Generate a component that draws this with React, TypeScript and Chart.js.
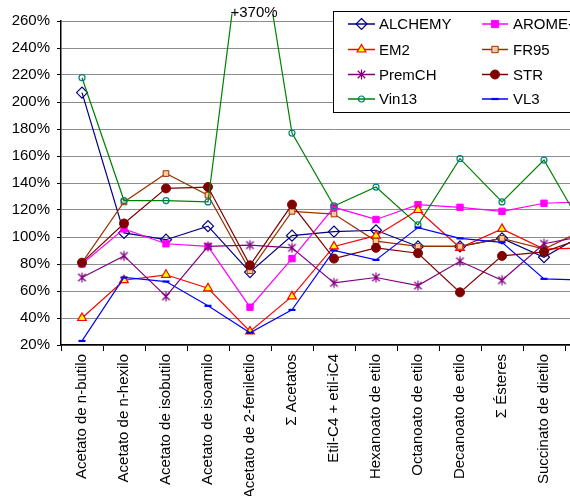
import React, { useEffect, useRef } from "react";
import { Chart, registerables } from "chart.js";

Chart.register(...registerables);

const categories = [
  "Acetato de n-butilo",
  "Acetato de n-hexilo",
  "Acetato de isobutilo",
  "Acetato de isoamilo",
  "Acetato de 2-feniletilo",
  "Σ Acetatos",
  "Etil-C4 + etil-iC4",
  "Hexanoato de etilo",
  "Octanoato de etilo",
  "Decanoato de etilo",
  "Σ Ésteres",
  "Succinato de dietilo",
  "Lactato de etilo",
];

const ALCHEMY = [207, 103, 98, 108, 74, 101, 104, 105, 93, 93, 99, 85, 103];
const AROME = [80, 106, 95, 93, 48, 84, 122, 113, 124, 122, 119, 125, 126];
const EM2 = [40, 68, 72, 62, 30, 56, 93, 101, 120, 92, 106, 91, 92];
const FR95 = [81, 126, 147, 131, 75, 119, 117, 97, 93, 93, 99, 91, 106];
const PremCH = [70, 86, 56, 93, 94, 92, 66, 70, 64, 82, 68, 95, 101];
const STR = [81, 110, 136, 137, 79, 124, 84, 92, 88, 59, 86, 89, 100];
const Vin13 = [218, 127, 127, 126, 370, 177, 123, 137, 109, 158, 126, 157, 103];
const VL3 = [23, 70, 67, 49, 29, 46, 90, 83, 107, 99, 96, 69, 68];

const yTicks = [20, 40, 60, 80, 100, 120, 140, 160, 180, 200, 220, 240, 260];
const peakLabel = "+370%";

const FONT = "'Liberation Sans', Arial, sans-serif";

type Series = {
  label: string;
  data: number[];
  line: string;
  style: string;
  fill: string;
  border: string;
  radius: number;
  bw: number;
};

const series: Series[] = [
  { label: "ALCHEMY", data: ALCHEMY, line: "#000080", style: "rectRot", fill: "rgba(255,255,255,0)", border: "#000080", radius: 5.5, bw: 1.2 },
  { label: "AROME+", data: AROME, line: "#FF00FF", style: "rect", fill: "#FF00FF", border: "#FF00FF", radius: 4.5, bw: 1 },
  { label: "EM2", data: EM2, line: "#FF0000", style: "triangle", fill: "#FFFF00", border: "#FF0000", radius: 5, bw: 1.2 },
  { label: "FR95", data: FR95, line: "#993300", style: "rect", fill: "#FFCC99", border: "#993300", radius: 4, bw: 1 },
  { label: "PremCH", data: PremCH, line: "#800080", style: "star", fill: "#800080", border: "#800080", radius: 5, bw: 1.2 },
  { label: "STR", data: STR, line: "#800000", style: "circle", fill: "#800000", border: "#800000", radius: 4.5, bw: 1 },
  { label: "Vin13", data: Vin13, line: "#008000", style: "circle", fill: "rgba(255,255,255,0)", border: "#008080", radius: 3, bw: 1.2 },
  { label: "VL3", data: VL3, line: "#0000FF", style: "line", fill: "#0000FF", border: "#0000FF", radius: 3.5, bw: 2.2 },
];

function drawMarker(ctx: CanvasRenderingContext2D, s: Series, x: number, y: number) {
  const r = s.radius;
  ctx.save();
  ctx.fillStyle = s.fill;
  ctx.strokeStyle = s.border;
  ctx.lineWidth = s.bw;
  ctx.beginPath();
  switch (s.style) {
    case "rectRot":
      ctx.moveTo(x, y - r);
      ctx.lineTo(x + r, y);
      ctx.lineTo(x, y + r);
      ctx.lineTo(x - r, y);
      ctx.closePath();
      ctx.fill();
      ctx.stroke();
      break;
    case "rect": {
      const h = r * 0.8;
      ctx.rect(x - h, y - h, 2 * h, 2 * h);
      ctx.fill();
      ctx.stroke();
      break;
    }
    case "triangle":
      ctx.moveTo(x, y - r);
      ctx.lineTo(x + r * 0.87, y + r * 0.5);
      ctx.lineTo(x - r * 0.87, y + r * 0.5);
      ctx.closePath();
      ctx.fill();
      ctx.stroke();
      break;
    case "star": {
      const d = r * 0.75;
      ctx.moveTo(x, y - r); ctx.lineTo(x, y + r);
      ctx.moveTo(x - d, y - d); ctx.lineTo(x + d, y + d);
      ctx.moveTo(x - d, y + d); ctx.lineTo(x + d, y - d);
      ctx.stroke();
      break;
    }
    case "circle":
      ctx.arc(x, y, r, 0, Math.PI * 2);
      ctx.fill();
      ctx.stroke();
      break;
    case "line":
      ctx.moveTo(x - r, y);
      ctx.lineTo(x + r, y);
      ctx.stroke();
      break;
  }
  ctx.restore();
}

function makeStar(s: Series): HTMLCanvasElement {
  const c = document.createElement("canvas");
  c.width = 13;
  c.height = 13;
  const ctx = c.getContext("2d");
  if (ctx) drawMarker(ctx, s, 6.5, 6.5);
  return c;
}

const overlayPlugin = {
  id: "overlay",
  afterDatasetsDraw(chart: any) {
    const ctx: CanvasRenderingContext2D = chart.ctx;
    const x = chart.scales.x.getPixelForValue(4);
    ctx.save();
    ctx.font = `15px ${FONT}`;
    ctx.fillStyle = "#000";
    ctx.textAlign = "center";
    ctx.textBaseline = "middle";
    ctx.fillText(peakLabel, x + 4, 13);
    ctx.restore();
  },
  afterDraw(chart: any) {
    const ctx: CanvasRenderingContext2D = chart.ctx;
    ctx.save();
    ctx.fillStyle = "#fff";
    ctx.fillRect(333.5, 11.5, 280, 101);
    ctx.strokeStyle = "#000";
    ctx.lineWidth = 1;
    ctx.strokeRect(333.5, 11.5, 280, 101);
    const cols = [
      { l0: 348, l1: 375, m: 361.5, t: 379 },
      { l0: 482, l1: 508, m: 495, t: 513 },
    ];
    const rows = [24, 49.5, 74.5, 99];
    ctx.font = `15px ${FONT}`;
    ctx.textBaseline = "middle";
    ctx.textAlign = "left";
    series.forEach((s, i) => {
      const c = cols[i % 2];
      const y = rows[Math.floor(i / 2)];
      ctx.strokeStyle = s.line;
      ctx.lineWidth = 1.5;
      ctx.beginPath();
      ctx.moveTo(c.l0, y);
      ctx.lineTo(c.l1, y);
      ctx.stroke();
      drawMarker(ctx, s, c.m, y);
      ctx.fillStyle = "#000";
      ctx.fillText(s.label, c.t, y + 1);
    });
    ctx.restore();
  },
};

export default function App() {
  const ref = useRef<HTMLCanvasElement | null>(null);
  useEffect(() => {
    if (!ref.current) return;
    Chart.defaults.font.family = FONT;
    Chart.defaults.color = "#000";
    const chart = new Chart(ref.current, {
      type: "line",
      data: {
        labels: categories,
        datasets: series.map((s, i) => ({
          label: s.label,
          data: s.data,
          borderColor: s.line,
          borderWidth: 1.2,
          backgroundColor: s.fill,
          pointStyle: (s.style === "star" ? makeStar(s) : s.style) as any,
          pointRadius: s.radius,
          pointHoverRadius: s.radius,
          pointBackgroundColor: s.fill,
          pointBorderColor: s.border,
          pointBorderWidth: s.bw,
          tension: 0,
          fill: false,
          order: series.length - i,
          clip: { left: 0, top: 7, right: 0, bottom: 0 } as any,
        })),
      },
      options: {
        animation: false,
        responsive: false,
        devicePixelRatio: 1,
        layout: { padding: { top: 21, right: 13, bottom: 0, left: 0 } },
        plugins: { legend: { display: false }, tooltip: { enabled: false } },
        scales: {
          x: {
            offset: true,
            ticks: {
              autoSkip: false,
              maxRotation: 90,
              minRotation: 90,
              font: { size: 15, family: FONT },
              color: "#000",
              padding: 3,
            },
            grid: { offset: true, drawOnChartArea: false, drawTicks: true, tickLength: 6, color: "#000", tickColor: "#000" },
            border: { display: true, color: "#000", width: 1.5 },
            afterFit: (s: any) => {
              s.height = 185;
            },
          },
          y: {
            min: yTicks[0],
            max: yTicks[yTicks.length - 1],
            afterBuildTicks: (s: any) => {
              s.ticks = yTicks.map((v) => ({ value: v }));
            },
            ticks: {
              callback: (v: any) => v + "%",
              font: { size: 15, family: FONT },
              color: "#000",
              padding: 7,
            },
            grid: { color: "#8c8c8c", lineWidth: 1, tickColor: "#000", tickLength: 4, drawTicks: true },
            border: { display: true, color: "#000", width: 1.5 },
            afterFit: (s: any) => {
              s.width = 61;
            },
          },
        },
      },
      plugins: [overlayPlugin],
    });
    return () => chart.destroy();
  }, []);
  return (
    <div style={{ position: "fixed", left: 0, top: 0, width: 570, height: 496, overflow: "hidden", background: "#fff" }}>
      <canvas ref={ref} width={620} height={530} style={{ display: "block", width: 620, height: 530 }} />
    </div>
  );
}
